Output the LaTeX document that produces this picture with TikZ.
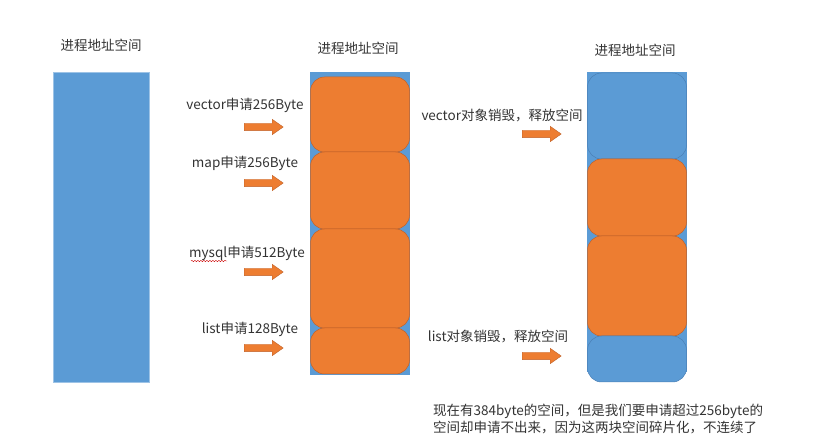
\documentclass[tikz,border=0pt]{standalone}
\usepackage{fontspec}
\setmainfont{Noto Sans CJK SC}
\usetikzlibrary{shapes.arrows,decorations.pathmorphing}
\definecolor{memblue}{HTML}{5B9BD5}
\definecolor{memorange}{HTML}{ED7D31}
\definecolor{orangeedge}{HTML}{C0622A}
\definecolor{blueedge}{HTML}{4A7FB5}
\definecolor{txt}{HTML}{333333}
\tikzset{
  container/.style={fill=memblue, draw=memblue!80!white, line width=0.6pt},
  oblock/.style={fill=memorange, draw=orangeedge, line width=0.5pt, rounded corners=14pt},
  bblock/.style={fill=memblue, draw=blueedge, line width=0.5pt, rounded corners=14pt},
  lbl/.style={text=txt, font=\fontsize{13.5}{16}\selectfont, anchor=base, inner sep=0pt},
  rarrow/.style={single arrow, fill=memorange, draw=orangeedge, line width=0.4pt,
     inner xsep=0pt, inner ysep=3.5pt, single arrow head extend=4pt,
     single arrow tip angle=70, minimum height=39pt, anchor=west},
}
\begin{document}
\begin{tikzpicture}[x=1pt,y=-1pt]
\useasboundingbox (0,0) rectangle (815,446);
% titles
\node[lbl] (t1) at (101,51) {进程地址空间};
\node[lbl] (t2) at (358,54) {进程地址空间};
\node[lbl] (t3) at (635,56) {进程地址空间};
% left container
\node[container, draw=memblue!60!white, minimum width=96pt, minimum height=310pt, inner sep=0pt, anchor=north west] (c1) at (53,72) {};
% middle container
\fill[memblue] (310,72) rectangle (410,375);
\draw[oblock] (310.5,77) rectangle (409.5,152);
\draw[oblock] (310.5,152) rectangle (409.5,229);
\draw[oblock] (310.5,229) rectangle (409.5,328);
\draw[oblock] (310.5,328) rectangle (409.5,374);
% right container
\fill[memblue] (587,72) rectangle (687,372);
\draw[bblock] (587.5,73) rectangle (686.5,159);
\draw[oblock] (587.5,159) rectangle (686.5,236);
\draw[oblock] (587.5,236) rectangle (686.5,336);
\draw[bblock] (587.5,336) rectangle (686.5,382);
% middle labels and arrows
\node[lbl] (l1) at (245,110) {vector申请256Byte};
\node[rarrow] (a1) at (244,127) {};
\node[lbl] (l2) at (245,168) {map申请256Byte};
\node[rarrow] (a2) at (244,183) {};
\node[lbl] (l3) at (247,258) {mysql申请512Byte};
\draw[red!80!black, line width=0.4pt, decorate, decoration={snake, amplitude=0.7pt, segment length=3pt}] (191,261) -- (227,261);
\node[rarrow] (a3) at (244,272) {};
\node[lbl] (l4) at (250,334) {list申请128Byte};
\node[rarrow] (a4) at (244,348) {};
% right labels and arrows
\node[lbl] (r1) at (502,121) {vector对象销毁，释放空间};
\node[rarrow] (ra1) at (522,134) {};
\node[lbl] (r2) at (498,342) {list对象销毁，释放空间};
\node[rarrow] (ra2) at (522,356) {};
% bottom note
\node[lbl, anchor=base west] (n1) at (433,416) {现在有384byte的空间，但是我们要申请超过256byte的};
\node[lbl, anchor=base west] (n2) at (433,433) {空间却申请不出来，因为这两块空间碎片化，不连续了};
\end{tikzpicture}
\end{document}
